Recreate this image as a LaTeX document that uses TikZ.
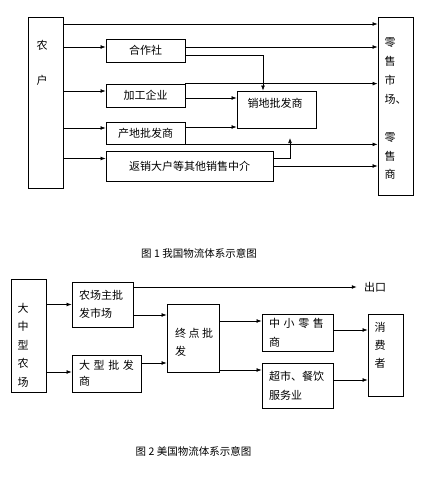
\documentclass[tikz,border=0pt]{standalone}
\usepackage{fontspec}
\newfontfamily\cjk{Noto Sans CJK SC}
\usetikzlibrary{arrows.meta, positioning}

\begin{document}
\begin{tikzpicture}[
  x=1pt, y=-1pt,
  box/.style={draw, line width=0.8pt, inner sep=0pt},
  txt/.style={inner sep=0pt, font=\cjk\fontsize{11}{18.5}\selectfont},
  lbox/.style={box, align=left, inner xsep=7pt, font=\cjk\fontsize{11}{18.5}\selectfont},
  arr/.style={line width=0.7pt, -{Latex[length=5pt, width=3.8pt]}},
  figcaption/.style={inner sep=0pt, font=\cjk\fontsize{10.5}{12}\selectfont}
]
  \useasboundingbox (0,0) rectangle (422,477);

  % Figure 1: boxes
  \node[box, minimum width=35pt, minimum height=171pt] (nh) at (45.5,102.5) {};
  \node[txt, align=center, font=\cjk\fontsize{11}{35}\selectfont] (nhtext) at (42,62.5) {农\\户};
  \node[box, minimum width=35pt, minimum height=178pt] (ls) at (395.5,106) {};
  \node[txt, align=left, anchor=west, font=\cjk\fontsize{11}{18.86}\selectfont] (lstext) at (384.5,109)
    {零\\售\\市\\场、\\[18.86pt]零\\售\\商};
  \node[box, txt, minimum width=79pt, minimum height=23pt] (hzs) at (145.5,50.5) {合作社};
  \node[box, txt, minimum width=79pt, minimum height=23pt] (jg) at (145.5,95.5) {加工企业};
  \node[box, txt, minimum width=79pt, minimum height=22pt] (cd) at (145.5,133) {产地批发商};
  \node[box, txt, minimum width=167pt, minimum height=30pt] (fx) at (189.5,166) {返销大户等其他销售中介};
  \node[box, minimum width=79pt, minimum height=37pt] (xd) at (276.5,109.5) {};
  \node[txt] (xdtext) at (275,103) {销地批发商};
  \coordinate (up) at (290,138);

  % Figure 1: arrows
  \draw[arr] (nh.east |- 0,24) -- (ls.west |- 0,24);
  \draw[arr] (nh.east |- 0,47) -- (hzs.west |- 0,47);
  \draw[arr] (nh.east |- 0,91) -- (jg.west |- 0,91);
  \draw[arr] (nh.east |- 0,128) -- (cd.west |- 0,128);
  \draw[arr] (nh.east |- 0,158.5) -- (fx.west |- 0,158.5);
  \draw[arr] (hzs.east |- 0,47) -- (ls.west |- 0,47);
  \draw[arr] (hzs.east |- 0,55) -| ([xshift=-13.5pt]xd.north);
  \draw[arr] (jg.north east) -- (jg.north east -| ls.west);
  \draw[arr] (jg.east |- 0,98) -- (xd.west |- 0,98);
  \draw[arr] (cd.east |- 0,127) -- (xd.west |- 0,127);
  \draw[arr] (cd.south east) -- (cd.south east -| ls.west);
  \draw[arr] (fx.east |- 0,158.5) -| (up);
  \draw[arr] (fx.east |- 0,166) -- (ls.west |- 0,166);

  \node[figcaption] (cap1) at (199,253) {图 1 我国物流体系示意图};

  % Figure 2: boxes
  \node[box, minimum width=35pt, minimum height=113pt] (dzx) at (28.5,335.5) {};
  \node[txt, align=center] (dzxtext) at (23,345) {大\\中\\型\\农\\场};
  \node[lbox, text width=47pt, minimum height=45pt] (ncz) at (102.5,304.5) {农场主批\\发市场};
  \node[lbox, text width=55pt, minimum height=37pt, font=\cjk\fontsize{11}{16.5}\selectfont] (dxp) at (106.5,373.5) {大 型 批 发\\商};
  \node[box, minimum width=52pt, minimum height=68pt] (zd) at (193,338) {};
  \node[txt, align=left, anchor=west] (zdtext) at (175,342.5) {终 点 批\\发};
  \node[lbox, text width=57pt, minimum height=37pt, font=\cjk\fontsize{11}{19}\selectfont] (zx) at (297.5,332.5) {中 小 零 售\\商};
  \node[lbox, text width=57pt, minimum height=45pt, font=\cjk\fontsize{11}{19}\selectfont] (cs) at (297.5,385.5) {超市、餐饮\\服务业};
  \node[box, minimum width=35pt, minimum height=82pt] (xf) at (385.5,355) {};
  \node[txt, align=center, font=\cjk\fontsize{11}{18}\selectfont] (xftext) at (380,345) {消\\费\\者};
  \node[txt] (ck) at (375,287) {出口};

  % Figure 2: arrows
  \draw[arr] (dzx.east |- ncz.west) -- (ncz.west);
  \draw[arr] (dzx.east |- 0,372) -- (dxp.west |- 0,372);
  \draw[arr] (ncz.east |- ck) -- ([xshift=-7pt]ck.west);
  \draw[arr] (ncz.east |- 0,315) -- (zd.west |- 0,315);
  \draw[arr] (dxp.east |- 0,363) -- (zd.west |- 0,363);
  \draw[arr] (zd.east |- 0,321) -- (zx.west |- 0,321);
  \draw[arr] (zd.east |- 0,370) -- (cs.west |- 0,370);
  \draw[arr] (zx.east |- 0,330) -- (xf.west |- 0,330);
  \draw[arr] (cs.east |- 0,380) -- (xf.west |- 0,380);

  \node[figcaption] (cap2) at (193.5,451) {图 2 美国物流体系示意图};
\end{tikzpicture}
\end{document}
